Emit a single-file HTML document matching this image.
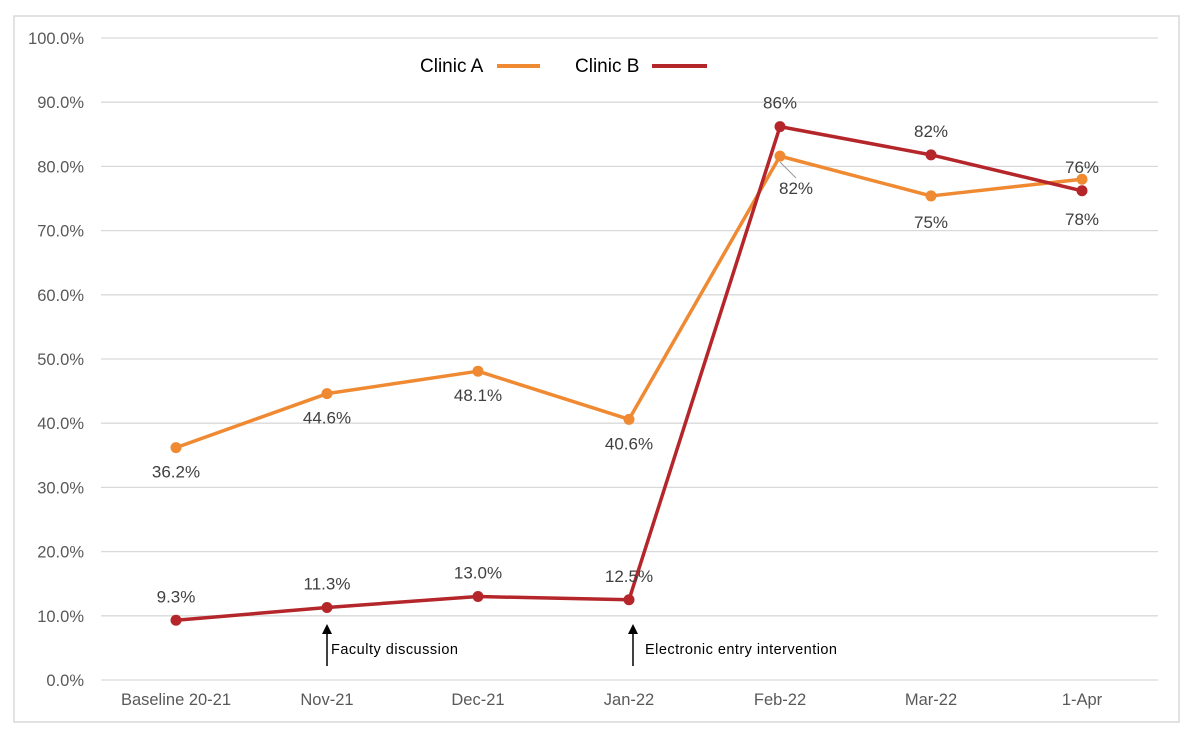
<!DOCTYPE html>
<html><head><meta charset="utf-8"><style>
body{margin:0;background:#fff;font-family:"Liberation Sans",Arial,sans-serif}
svg{display:block}
</style></head><body>
<svg width="1198" height="744">
<rect x="14" y="16" width="1165" height="706" fill="#fff" stroke="#d9d9d9" stroke-width="1.5"/>
<g id="grid"></g>
<g id="ylabels"></g>
<g id="xlabels"></g>
<g id="series"></g>
<g font-size="19" fill="#000">
<text x="420" y="72">Clinic A</text>
<line x1="497" y1="66" x2="540" y2="66" stroke="#ef8a33" stroke-width="4"/>
<text x="575" y="72">Clinic B</text>
<line x1="652" y1="66" x2="707" y2="66" stroke="#b5262b" stroke-width="4"/>
</g>
<g font-size="14.5" fill="#000">
<line x1="327" y1="666" x2="327" y2="632" stroke="#000" stroke-width="1.5"/>
<polygon points="327,624 322,634 332,634" fill="#000"/>
<text x="331" y="654" textLength="127">Faculty discussion</text>
<line x1="633" y1="666" x2="633" y2="632" stroke="#000" stroke-width="1.5"/>
<polygon points="633,624 628,634 638,634" fill="#000"/>
<text x="645" y="654" textLength="192">Electronic entry intervention</text>
</g>
<line x1="780" y1="162" x2="796" y2="178" stroke="#999" stroke-width="1"/>
</svg>
<script>
const categories=["Baseline 20-21","Nov-21","Dec-21","Jan-22","Feb-22","Mar-22","1-Apr"];
const clinicA=[36.2,44.6,48.1,40.6,81.6,75.4,78.0];
const clinicB=[9.3,11.3,13.0,12.5,86.2,81.8,76.2];
const labelsA=["36.2%","44.6%","48.1%","40.6%","82%","75%","76%"];
const labelsB=["9.3%","11.3%","13.0%","12.5%","86%","82%","78%"];
const yTicks=[0,10,20,30,40,50,60,70,80,90,100];
const NS="http://www.w3.org/2000/svg";
const y=v=>680-v*6.42, x=i=>176+i*151;
function mk(t,a,p){const e=document.createElementNS(NS,t);for(const k in a)e.setAttribute(k,a[k]);p.appendChild(e);return e;}
const grid=document.getElementById('grid'),yl=document.getElementById('ylabels'),xl=document.getElementById('xlabels'),ser=document.getElementById('series');
yTicks.forEach(v=>{
 const l=mk('line',{x1:101,x2:1158,y1:y(v),y2:y(v),stroke:'#d9d9d9','stroke-width':1.3},grid);
 
 
 const t=mk('text',{x:84,y:y(v)+6,'text-anchor':'end','font-size':16.5,fill:'#595959'},yl);
 t.textContent=v.toFixed(1)+'%';
 
 
});
categories.forEach((c,i)=>{
 const t=mk('text',{x:x(i),y:705,'text-anchor':'middle','font-size':16.5,fill:'#595959'},xl);
 t.textContent=c;
 
 
});
const offA=[30,30,30,30,38,32,-6];
const offB=[-18,-18,-18,-18,-18,-18,34];
function drawSeries(vals,labels,offs,color,name,lxoff){
 const g=mk('g',{},ser);
 
 
 const p=mk('polyline',{points:vals.map((v,i)=>x(i)+','+y(v)).join(' '),fill:'none',stroke:color,'stroke-width':3.5,'stroke-linejoin':'round'},g);
 
 
 vals.forEach((v,i)=>{
  const c=mk('circle',{cx:x(i),cy:y(v),r:5.5,fill:color},g);
  
  
  const t=mk('text',{x:x(i)+(lxoff[i]||0),y:y(v)+offs[i],'text-anchor':'middle','font-size':17,fill:'#404040'},g);
  t.textContent=labels[i];
  
  
 });
}
drawSeries(clinicA,labelsA,offA,'#ef8a33','clinic-a',[0,0,0,0,16,0,0]);
drawSeries(clinicB,labelsB,offB,'#b5262b','clinic-b',[0,0,0,0,0,0,0]);
</script>
</body></html>
